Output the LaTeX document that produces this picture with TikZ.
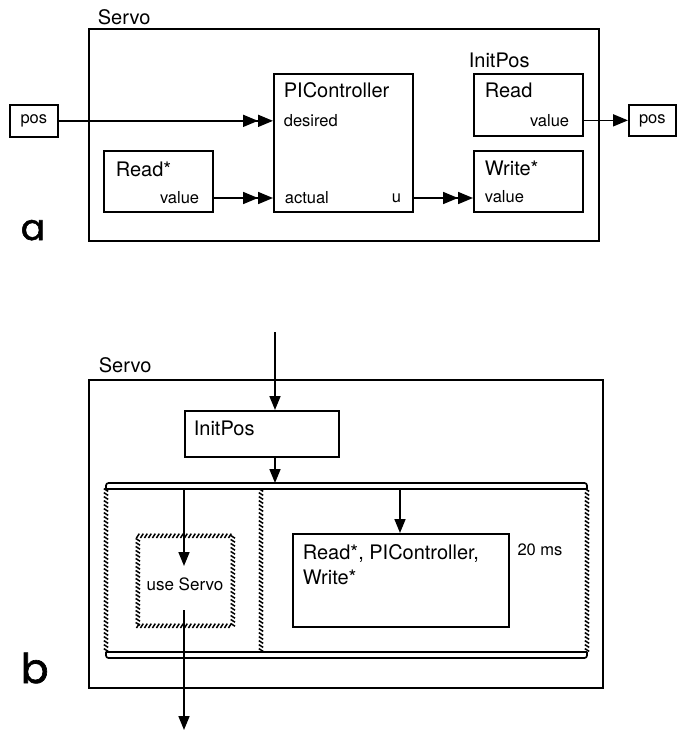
\documentclass[tikz,border=0pt]{standalone}
\usepackage{fontspec}
\setmainfont{TeX Gyre Heros}
\newfontfamily\labfont[FakeBold=1.6]{Poppins}
\usetikzlibrary{arrows.meta,decorations.markings}
\begin{document}
\begin{tikzpicture}[x=1pt,y=-1pt, line width=1.7pt,
  box/.style={draw, anchor=north west, inner sep=0pt},
  ttl/.style={anchor=west, inner sep=0pt, font=\fontsize{20}{22}\selectfont},
  sml/.style={anchor=west, inner sep=0pt, font=\fontsize{16.5}{18}\selectfont},
  dbl/.style={-{Triangle[length=15pt,width=12pt]Triangle[length=15pt,width=12pt]}},
  sgl/.style={-{Triangle[length=15pt,width=12pt]}},
  dwn/.style={-{Triangle[length=14pt,width=11pt]}},
  hatch/.style={decoration={markings, mark=between positions 0 and 1 step 4pt with {\draw[line width=1.5pt] (-1.4pt,-2.2pt) -- (1.4pt,2.2pt);}}, postaction={decorate}},
]
\useasboundingbox (0,0) rectangle (678,731);
% ---------- part a ----------
\node[ttl] (servoAT) at (97,17) {Servo};
\node[box, minimum width=510pt, minimum height=212pt] (servoA) at (88,28) {};
\node[box, minimum width=48pt, minimum height=32pt, font=\fontsize{16.5}{18}\selectfont] (posL) at (9,104) {pos};
\node[box, minimum width=139pt, minimum height=138pt] (pic) at (273,73) {};
\node[ttl] (picT) at (283,90) {PIController};
\node[sml] (des) at (283,121) {desired};
\node[sml] (act) at (284,198) {actual};
\node[sml, anchor=east] (uu) at (402,198) {u};
\node[box, minimum width=109pt, minimum height=61pt] (rs) at (103,150) {};
\node[ttl] (rsT) at (115,169) {Read*};
\node[sml, anchor=east] (rsv) at (200,198) {value};
\node[ttl] (ipA) at (468,60) {InitPos};
\node[box, minimum width=109pt, minimum height=62pt] (rd) at (473,73) {};
\node[ttl] (rdT) at (484,90) {Read};
\node[sml, anchor=east] (rdv) at (570,121) {value};
\node[box, minimum width=109pt, minimum height=61pt] (wr) at (473,150) {};
\node[ttl] (wrT) at (484,168) {Write*};
\node[sml] (wrv) at (484,197) {value};
\node[box, minimum width=47pt, minimum height=31pt, font=\fontsize{16.5}{18}\selectfont] (posR) at (628,104) {pos};
\draw[dbl] (posL.east) -- (posL.east -| pic.west);
\draw[dbl] (rsv.east -| rs.east) -- (rsv.east -| pic.west);
\draw[dbl] (uu.east -| pic.east) -- (uu.east -| wr.west);
\draw[sgl] (posR.west -| rd.east) -- (posR.west);
\node[font=\labfont\fontsize{36}{36}\selectfont, inner sep=0pt, anchor=base west] (la) at (20,240) {a};
% ---------- part b ----------
\node[ttl] (servoBT) at (98,365) {Servo};
\node[box, minimum width=514pt, minimum height=308pt] (servoB) at (88,379) {};
\node[box, minimum width=154pt, minimum height=46pt] (ip) at (184,410) {};
\node[ttl] (ipT) at (193,428) {InitPos};
\coordinate (topin) at (275,332);
\coordinate (parTop) at (275,483);
\draw[dwn] (topin) -- (topin |- ip.north);
\draw[dwn] (topin |- ip.south) -- (parTop);
% parallel frame
\draw[rounded corners=2.5pt] (106,489.5) |- (587,483) -- (587,489.5);
\draw (106,489) -- (587,489);
\draw[rounded corners=2.5pt] (106,651.5) |- (587,658) -- (587,651.5);
\draw (106,652) -- (587,652);
\path[hatch] (106,490) -- (106,652);
\path[hatch] (261,490) -- (261,652);
\path[hatch] (587,490) -- (587,652);
% use Servo
\node[anchor=north west, minimum width=95pt, minimum height=90pt, inner sep=0pt, hatch] (us) at (137,535) {};
\node[inner sep=0pt, font=\fontsize{17}{19}\selectfont] (usT) at (185,584) {use Servo};
\coordinate (usIn) at (184,489);
\coordinate (usTip) at (184,566);
\coordinate (usOut) at (184,610);
\coordinate (bOut) at (184,730);
\draw[dwn] (usIn) -- (usTip);
\draw[dwn] (usOut) -- (bOut);
% periodic box
\node[box, minimum width=216pt, minimum height=93pt] (rpw) at (292,533) {};
\node[ttl] (rpwT1) at (302,553) {Read*, PIController,};
\node[ttl] (rpwT2) at (302,577) {Write*};
\node[sml, anchor=center] (ms) at (540,550) {20 ms};
\coordinate (rpIn) at (400,489);
\draw[dwn] (rpIn) -- (rpIn |- rpw.north);
\node[font=\labfont\fontsize{41}{41}\selectfont, inner sep=0pt, anchor=base west] (lb) at (20,683) {b};
\end{tikzpicture}
\end{document}
